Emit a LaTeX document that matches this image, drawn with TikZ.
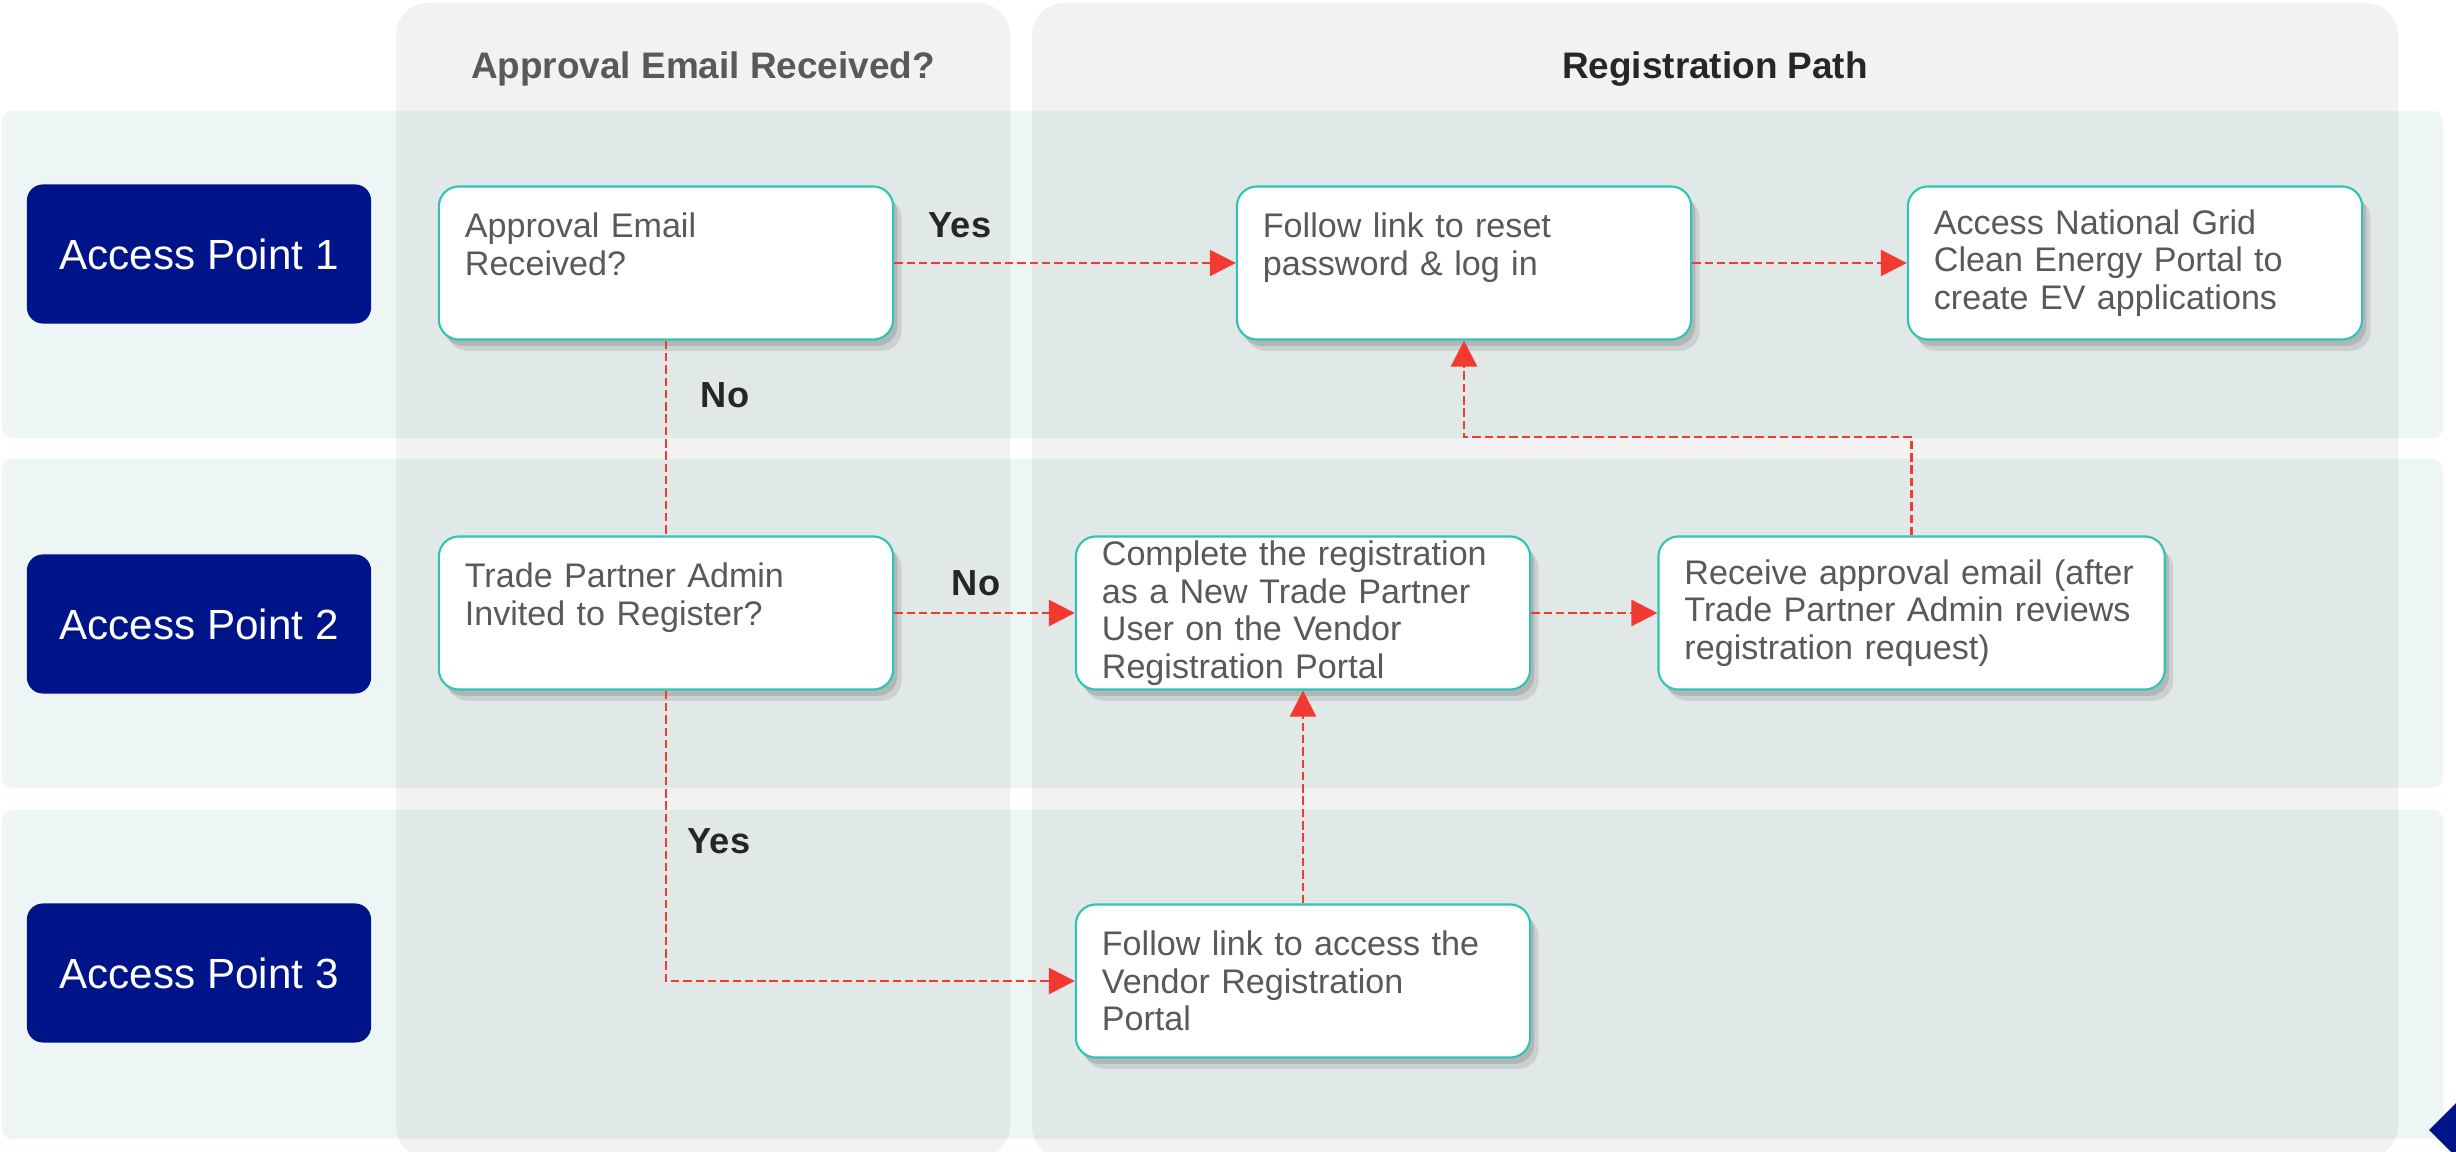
\documentclass[tikz,border=0pt]{standalone}
\usepackage{fontspec}
\setmainfont{Liberation Sans}
\usetikzlibrary{arrows.meta,shadows}

\definecolor{ngblue}{HTML}{001489}
\definecolor{boxline}{HTML}{2EC4B6}
\definecolor{flowred}{HTML}{F23A30}
\definecolor{bandcol}{HTML}{EEF6F5}
\definecolor{txtgray}{HTML}{58595B}
\definecolor{txtdark}{HTML}{262626}

\tikzset{
    accpoint/.style={fill=ngblue, rounded corners=0.16cm, minimum width=3.44cm, minimum height=1.39cm,
        text=white, font=\fontsize{12}{14}\selectfont},
    stepbox/.style={draw=boxline, line width=0.6pt, fill=white, rounded corners=0.2cm,
        minimum height=1.53cm, text width=4.02cm, inner xsep=0.26cm, inner ysep=1pt, align=left,
        text=txtgray, font=\fontsize{9.7}{10.7}\selectfont,
        drop shadow={shadow xshift=1.2pt, shadow yshift=-1.8pt, opacity=0.12, fill=black},
        drop shadow={shadow xshift=2.4pt, shadow yshift=-3.2pt, opacity=0.1, fill=black}},
    flow/.style={draw=flowred, line width=0.75pt, dash pattern=on 2.4pt off 1.1pt,
        -{Triangle[length=7.4pt,width=7.4pt]}},
    answer/.style={text=txtdark, font=\bfseries\fontsize{10.3}{12}\selectfont},
    colhead/.style={font=\bfseries\fontsize{10.5}{12}\selectfont}
}

\begin{document}
\begin{tikzpicture}[x=0.01cm, y=-0.01cm]
    \useasboundingbox (0,0) rectangle (2456,1152);
    \clip (0,0) rectangle (2456,1152);

    % lanes and columns
    \fill[bandcol, rounded corners=0.1cm] (2,111) rectangle (2443,438);
    \fill[bandcol, rounded corners=0.1cm] (2,459) rectangle (2443,788);
    \fill[bandcol, rounded corners=0.1cm] (2,810) rectangle (2443,1139);
    \fill[black, opacity=0.05, rounded corners=0.32cm] (396,3) rectangle (1010,1158);
    \fill[black, opacity=0.05, rounded corners=0.32cm] (1032,3) rectangle (2398,1158);
    \fill[ngblue] (2429,1130) -- (2457,1102) -- (2485,1130) -- (2457,1158) -- cycle;

    \node[colhead, text=txtgray] (h1) at (703,69) {Approval Email Received?};
    \node[colhead, text=txtdark] (h2) at (1715,69) {Registration Path};

    \node[accpoint] (ap1) at (199,254) {Access Point 1};
    \node[accpoint] (ap2) at (199,624) {Access Point 2};
    \node[accpoint] (ap3) at (199,973) {Access Point 3};

    \node[stepbox] (q1) at (666,263) {Approval Email\\Received?\\~};
    \node[stepbox] (q2) at (666,613) {Trade Partner Admin\\Invited to Register?\\~};
    \node[stepbox] (reset) at (1464,263) {Follow link to reset\\password \& log in\\~};
    \node[stepbox] (grid) at (2135,263) {Access National Grid\\Clean Energy Portal to\\create EV applications};
    \node[stepbox] (complete) at (1303,613) {Complete the registration\\as a New Trade Partner\\User on the Vendor\\Registration Portal};
    \node[stepbox, text width=4.54cm] (receive) at (1911.6,613) {Receive approval email (after\\Trade Partner Admin reviews\\registration request)};
    \node[stepbox] (access) at (1303,981) {Follow link to access the\\Vendor Registration\\Portal};

    \node[answer] (yes1) at (960,225) {Yes};
    \node[answer] (no1) at (725,395) {No};
    \node[answer] (no2) at (976,583) {No};
    \node[answer] (yes2) at (719,841) {Yes};

    \coordinate (turn) at (1464,437);
    \draw[flow] (q1) -- (reset);
    \draw[flow] (reset) -- (grid);
    \draw[flow, -] (q1) -- (q2);
    \draw[flow] (q2) -- (complete);
    \draw[flow] (complete) -- (receive);
    \draw[flow] (receive.north) |- (turn) -- (reset.south);
    \draw[flow] (q2.south) |- (access.west);
    \draw[flow] (access) -- (complete);
\end{tikzpicture}
\end{document}
